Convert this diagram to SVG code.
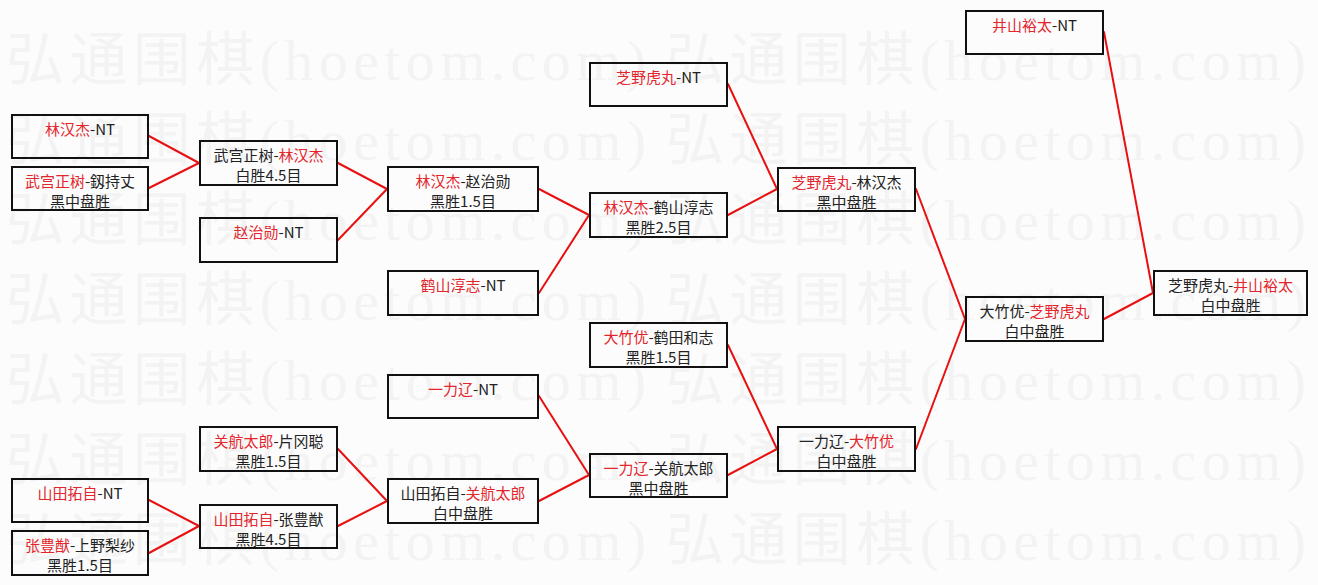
<svg xmlns="http://www.w3.org/2000/svg" width="1318" height="585" viewBox="0 0 1318 585">
<style>
.bg{fill:#fcfcfc}
.wm{font-family:"Liberation Serif","Noto Sans CJK SC",serif;font-size:58px;fill:#f3f3f3}
.box{fill:none;stroke:#111;stroke-width:2}
.t{font-family:"Noto Sans CJK SC","Noto Sans CJK JP",sans-serif;font-size:15px;fill:#222;text-anchor:middle}
.r{fill:#e3262c}
.c line{stroke:#e81010;stroke-width:2;stroke-linecap:round}
</style>
<rect class="bg" x="0" y="0" width="1318" height="585"/>
<g id="watermark" class="wm">
<text x="6" y="80" textLength="640" lengthAdjust="spacing">弘通围棋(hoetom.com)</text>
<text x="666" y="80" textLength="640" lengthAdjust="spacing">弘通围棋(hoetom.com)</text>
<text x="6" y="160" textLength="640" lengthAdjust="spacing">弘通围棋(hoetom.com)</text>
<text x="666" y="160" textLength="640" lengthAdjust="spacing">弘通围棋(hoetom.com)</text>
<text x="6" y="240" textLength="640" lengthAdjust="spacing">弘通围棋(hoetom.com)</text>
<text x="666" y="240" textLength="640" lengthAdjust="spacing">弘通围棋(hoetom.com)</text>
<text x="6" y="320" textLength="640" lengthAdjust="spacing">弘通围棋(hoetom.com)</text>
<text x="666" y="320" textLength="640" lengthAdjust="spacing">弘通围棋(hoetom.com)</text>
<text x="6" y="400" textLength="640" lengthAdjust="spacing">弘通围棋(hoetom.com)</text>
<text x="666" y="400" textLength="640" lengthAdjust="spacing">弘通围棋(hoetom.com)</text>
<text x="6" y="480" textLength="640" lengthAdjust="spacing">弘通围棋(hoetom.com)</text>
<text x="666" y="480" textLength="640" lengthAdjust="spacing">弘通围棋(hoetom.com)</text>
<text x="6" y="560" textLength="640" lengthAdjust="spacing">弘通围棋(hoetom.com)</text>
<text x="666" y="560" textLength="640" lengthAdjust="spacing">弘通围棋(hoetom.com)</text>
</g>
<g id="connectors" class="c">
<line x1="149" y1="136" x2="199" y2="163"/>
<line x1="149" y1="188" x2="199" y2="163"/>
<line x1="338" y1="163" x2="387" y2="189"/>
<line x1="338" y1="240" x2="387" y2="189"/>
<line x1="539" y1="189" x2="589" y2="215"/>
<line x1="539" y1="293" x2="589" y2="215"/>
<line x1="728" y1="84" x2="777" y2="189"/>
<line x1="728" y1="215" x2="777" y2="189"/>
<line x1="916" y1="189" x2="965" y2="319"/>
<line x1="916" y1="449" x2="965" y2="319"/>
<line x1="1104" y1="319" x2="1153" y2="293"/>
<line x1="1104" y1="32" x2="1153" y2="293"/>
<line x1="728" y1="345" x2="777" y2="449"/>
<line x1="728" y1="475" x2="777" y2="449"/>
<line x1="539" y1="396" x2="589" y2="475"/>
<line x1="539" y1="501" x2="589" y2="475"/>
<line x1="338" y1="449" x2="387" y2="501"/>
<line x1="338" y1="526" x2="387" y2="501"/>
<line x1="149" y1="500" x2="199" y2="526"/>
<line x1="149" y1="553" x2="199" y2="526"/>
</g>
<g id="a1"><rect class="box" x="12" y="115" width="136" height="43"/><text class="t" x="80" y="135"><tspan class="r">林汉杰</tspan>-NT</text></g>
<g id="a2"><rect class="box" x="12" y="167" width="136" height="43"/><text class="t" x="80" y="187"><tspan class="r">武宫正树</tspan>-釼持丈</text><text class="t" x="80" y="207">黑中盘胜</text></g>
<g id="a3"><rect class="box" x="12" y="479" width="136" height="43"/><text class="t" x="80" y="499"><tspan class="r">山田拓自</tspan>-NT</text></g>
<g id="a4"><rect class="box" x="12" y="531" width="136" height="44"/><text class="t" x="80" y="551"><tspan class="r">张豊猷</tspan>-上野梨纱</text><text class="t" x="80" y="571">黑胜1.5目</text></g>
<g id="b1"><rect class="box" x="200" y="141" width="137" height="44"/><text class="t" x="268.5" y="161">武宫正树-<tspan class="r">林汉杰</tspan></text><text class="t" x="268.5" y="181">白胜4.5目</text></g>
<g id="b2"><rect class="box" x="200" y="218" width="137" height="44"/><text class="t" x="268.5" y="238"><tspan class="r">赵治勋</tspan>-NT</text></g>
<g id="b3"><rect class="box" x="200" y="427" width="137" height="44"/><text class="t" x="268.5" y="447"><tspan class="r">关航太郎</tspan>-片冈聪</text><text class="t" x="268.5" y="467">黑胜1.5目</text></g>
<g id="b4"><rect class="box" x="200" y="505" width="137" height="43"/><text class="t" x="268.5" y="525"><tspan class="r">山田拓自</tspan>-张豊猷</text><text class="t" x="268.5" y="545">黑胜4.5目</text></g>
<g id="c1"><rect class="box" x="388" y="167" width="150" height="44"/><text class="t" x="463" y="187"><tspan class="r">林汉杰</tspan>-赵治勋</text><text class="t" x="463" y="207">黑胜1.5目</text></g>
<g id="c2"><rect class="box" x="388" y="271" width="150" height="44"/><text class="t" x="463" y="291"><tspan class="r">鹤山淳志</tspan>-NT</text></g>
<g id="c3"><rect class="box" x="388" y="375" width="150" height="43"/><text class="t" x="463" y="395"><tspan class="r">一力辽</tspan>-NT</text></g>
<g id="c4"><rect class="box" x="388" y="479" width="150" height="44"/><text class="t" x="463" y="499">山田拓自-<tspan class="r">关航太郎</tspan></text><text class="t" x="463" y="519">白中盘胜</text></g>
<g id="d1"><rect class="box" x="590" y="63" width="137" height="43"/><text class="t" x="658.5" y="83"><tspan class="r">芝野虎丸</tspan>-NT</text></g>
<g id="d2"><rect class="box" x="590" y="193" width="137" height="44"/><text class="t" x="658.5" y="213"><tspan class="r">林汉杰</tspan>-鹤山淳志</text><text class="t" x="658.5" y="233">黑胜2.5目</text></g>
<g id="d3"><rect class="box" x="590" y="323" width="137" height="44"/><text class="t" x="658.5" y="343"><tspan class="r">大竹优</tspan>-鹤田和志</text><text class="t" x="658.5" y="363">黑胜1.5目</text></g>
<g id="d4"><rect class="box" x="590" y="454" width="137" height="43"/><text class="t" x="658.5" y="474"><tspan class="r">一力辽</tspan>-关航太郎</text><text class="t" x="658.5" y="494">黑中盘胜</text></g>
<g id="e1"><rect class="box" x="778" y="168" width="137" height="43"/><text class="t" x="846.5" y="188"><tspan class="r">芝野虎丸</tspan>-林汉杰</text><text class="t" x="846.5" y="208">黑中盘胜</text></g>
<g id="e2"><rect class="box" x="778" y="427" width="137" height="44"/><text class="t" x="846.5" y="447">一力辽-<tspan class="r">大竹优</tspan></text><text class="t" x="846.5" y="467">白中盘胜</text></g>
<g id="f1"><rect class="box" x="966" y="11" width="137" height="43"/><text class="t" x="1034.5" y="31"><tspan class="r">井山裕太</tspan>-NT</text></g>
<g id="f2"><rect class="box" x="966" y="297" width="137" height="44"/><text class="t" x="1034.5" y="317">大竹优-<tspan class="r">芝野虎丸</tspan></text><text class="t" x="1034.5" y="337">白中盘胜</text></g>
<g id="g1"><rect class="box" x="1154" y="271" width="153" height="44"/><text class="t" x="1230.5" y="291">芝野虎丸-<tspan class="r">井山裕太</tspan></text><text class="t" x="1230.5" y="311">白中盘胜</text></g>
</svg>
